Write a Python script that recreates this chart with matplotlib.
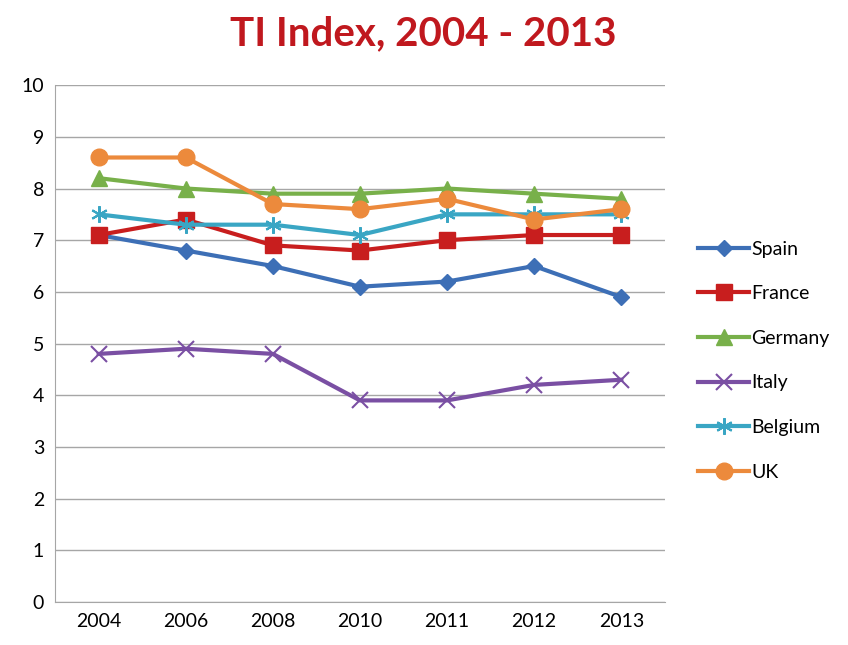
import matplotlib.pyplot as plt
import numpy as np

years = ["2004", "2006", "2008", "2010", "2011", "2012", "2013"]
spain = [7.1, 6.8, 6.5, 6.1, 6.2, 6.5, 5.9]
france = [7.1, 7.4, 6.9, 6.8, 7.0, 7.1, 7.1]
germany = [8.2, 8.0, 7.9, 7.9, 8.0, 7.9, 7.8]
italy = [4.8, 4.9, 4.8, 3.9, 3.9, 4.2, 4.3]
belgium = [7.5, 7.3, 7.3, 7.1, 7.5, 7.5, 7.5]
uk = [8.6, 8.6, 7.7, 7.6, 7.8, 7.4, 7.6]

plt.rcParams['font.family'] = ['Lato', 'DejaVu Sans']

fig = plt.figure(figsize=(8.48, 6.45), dpi=100)
ax = fig.add_axes([0.065, 0.0667, 0.719, 0.8013])

x = np.arange(len(years))
series = [
    ("Spain", spain, "#3d6fb6", "D", 8),
    ("France", france, "#c81e1e", "s", 11),
    ("Germany", germany, "#78b04a", "^", 11),
    ("Italy", italy, "#7a4fa3", "x", 11),
    ("Belgium", belgium, "#3aa6c4", (6, 2, 0), 12),
    ("UK", uk, "#ec8a3c", "o", 12),
]
for name, vals, col, mk, ms in series:
    ax.plot(x, vals, color=col, lw=3, marker=mk, markersize=ms,
            markeredgewidth=1.5 if mk in ("x", (6, 2, 0)) else 1,
            markeredgecolor=col, label=name)

ax.set_xlim(-0.5, len(years) - 0.5)
ax.set_ylim(0, 10)
ax.set_yticks(range(0, 11))
ax.set_xticks(x)
ax.set_xticklabels(years)
ax.tick_params(axis='both', labelsize=14, length=0, pad=8)
ax.grid(axis='y', color='#a6a6a6', lw=1)
ax.set_axisbelow(True)
for s in ['top', 'right']:
    ax.spines[s].set_visible(False)
ax.spines['left'].set_color('#a6a6a6')
ax.spines['bottom'].set_color('#a6a6a6')

fig.text(0.499, 0.948, "TI Index, 2004 - 2013", ha='center', va='center',
         fontsize=29, fontweight='bold', color='#c0181e')

fig.legend(loc='center left', bbox_to_anchor=(0.803, 0.441), frameon=False,
           fontsize=14, labelspacing=1.42, handlelength=2.6, handletextpad=0.1)

plt.savefig("out.png", dpi=100)
